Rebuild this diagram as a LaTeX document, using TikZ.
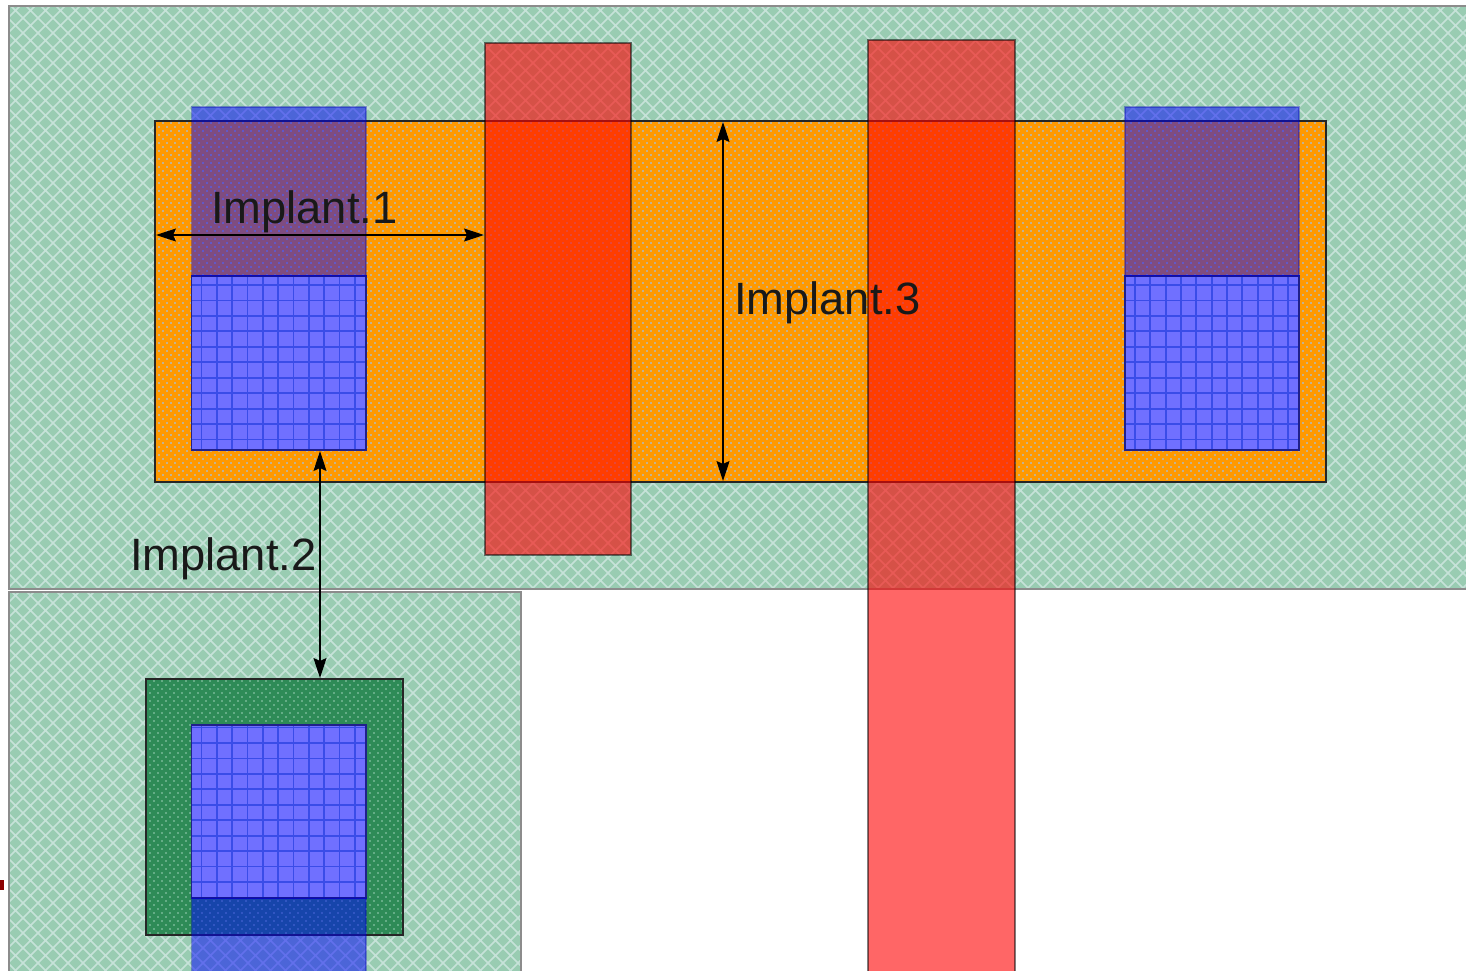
\documentclass[tikz,border=0pt]{standalone}
\usepackage{fontspec}
\setmainfont{Liberation Sans}
\usetikzlibrary{arrows.meta}
\definecolor{wellgreen}{HTML}{99CCB2}
\definecolor{hatchline}{HTML}{C6E2D9}
\definecolor{implantorange}{HTML}{FF9900}
\definecolor{orangedot}{HTML}{B0BCC4}
\definecolor{darkgreen}{HTML}{2E8B57}
\definecolor{greendot}{HTML}{9CD0B8}
\definecolor{gridblue}{HTML}{7070FF}
\definecolor{gridline}{HTML}{3A4CE8}
\definecolor{gridedge}{HTML}{20208C}
\definecolor{tickred}{HTML}{8B0000}
\tikzset{
  outlinebox/.style={draw=black!85,line width=1.2pt},
  wellbox/.style={draw=black!45,line width=1.6pt},
  gatebox/.style={fill=red,fill opacity=.6,draw=black,draw opacity=.5,line width=1.3pt},
  activebox/.style={fill=blue,fill opacity=.5,draw=black!30!blue,draw opacity=.35,line width=1.2pt},
  dim/.style={draw=black,line width=1.2pt,{Stealth[length=20pt,width=13pt,inset=3pt]}-{Stealth[length=20pt,width=13pt,inset=3pt]},shorten <=1pt,shorten >=1pt},
  lbl/.style={font=\fontsize{45.3}{45.3}\selectfont,text=black!90,inner sep=0pt,anchor=base west}
}
% hatched well: x1 y1 x2 y2
\newcommand{\wellrect}[4]{%
  \fill[wellgreen] (#1,#2) rectangle (#3,#4);
  \begin{scope}
    \clip (#1,#2) rectangle (#3,#4);
    \draw[hatchline,line width=1.6pt]
      foreach \d in {-1000,-985,...,2500} {(\d,0) -- ++(1000,1000)}
      foreach \d in {-994,-979,...,2500} {(\d,0) -- ++(-1000,1000)};
  \end{scope}
  \draw[wellbox] (#1,#2) rectangle (#3,#4);
}
% dotted region: x1 y1 x2 y2 fill dotcolour dotwidth
\newcommand{\dotrect}[7]{%
  \fill[#5] (#1,#2) rectangle (#3,#4);
  \begin{scope}
    \clip (#1,#2) rectangle (#3,#4);
    \pgfmathtruncatemacro{\nrows}{(#4-#2)/4}
    \foreach \r in {0,...,\nrows}{
      \pgfmathsetmacro{\yy}{#2+2+4*\r}
      \pgfmathsetmacro{\ph}{mod(\r,2)*4}
      \draw[#6,line width=#7,line cap=round,dash pattern=on 0pt off 8pt,dash phase=\ph pt] (#1,\yy) -- (#3,\yy);
    }
  \end{scope}
  \draw[outlinebox] (#1,#2) rectangle (#3,#4);
}
% grid contact: x1 y1 x2 y2 first-row-y
\newcommand{\gridrect}[5]{%
  \fill[gridblue] (#1,#2) rectangle (#3,#4);
  \begin{scope}
    \clip (#1,#2) rectangle (#3,#4);
    \draw[gridline,line width=1.8pt]
      foreach \k in {0,...,11} {(#1+10+15.33*\k,#2) -- (#1+10+15.33*\k,#4)}
      foreach \k in {0,...,11} {(#1,#5+15.45*\k) -- (#3,#5+15.45*\k)};
  \end{scope}
  \draw[gridedge,line width=1.6pt] (#1,#2) rectangle (#3,#4);
}
\begin{document}
\begin{tikzpicture}[x=1pt,y=-1pt]
\useasboundingbox (0,0) rectangle (1466,970);
\fill[white] (0,0) rectangle (1466,970);
\wellrect{9}{6}{1470}{589}
\wellrect{9}{592}{521}{975}
\dotrect{155}{121}{1326}{482}{implantorange}{orangedot}{2.2pt}
\dotrect{146}{679}{403}{935}{darkgreen}{greendot}{1.6pt}
\gridrect{191.5}{276}{366}{450}{285}
\gridrect{1125}{276}{1299}{450}{285}
\gridrect{191.5}{725}{366}{898}{727.5}
\draw[activebox] (191.5,107) rectangle (366,276);
\draw[activebox] (1125,107) rectangle (1299,276);
\draw[activebox] (191.5,898) rectangle (366,975);
\draw[gatebox] (485,43) rectangle (631,555);
\draw[gatebox] (868,40) rectangle (1015,975);
\fill[tickred] (0,880) rectangle (4,890);
\coordinate (oneL) at (155,235);
\coordinate (oneR) at (485,235);
\coordinate (twoT) at (320,450);
\coordinate (twoB) at (320,679);
\coordinate (threeT) at (723,121);
\coordinate (threeB) at (723,482);
\draw[dim] (oneL) -- (oneR);
\draw[dim] (twoT) -- (twoB);
\draw[dim] (threeT) -- (threeB);
\node[lbl] (implantone) at (211,223) {Implant.1};
\node[lbl] (implanttwo) at (130,570) {Implant.2};
\node[lbl] (implantthree) at (734,314) {Implant.3};
\end{tikzpicture}
\end{document}
